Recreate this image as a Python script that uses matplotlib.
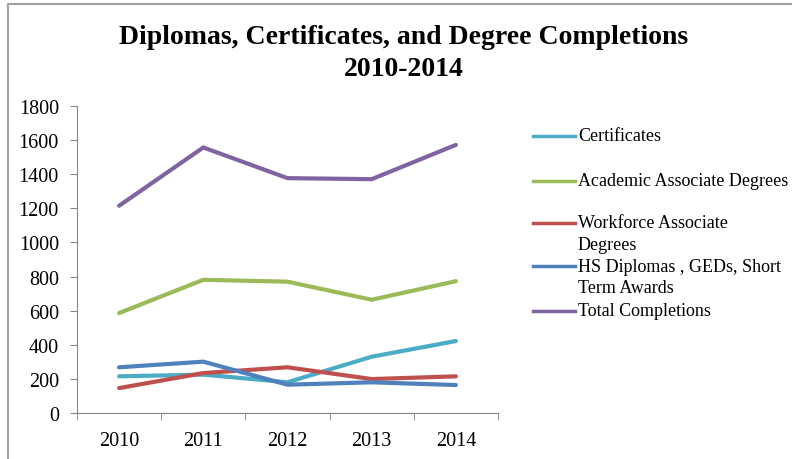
import matplotlib.pyplot as plt
from matplotlib.lines import Line2D

years = ['2010', '2011', '2012', '2013', '2014']
certificates = [215, 225, 180, 330, 422]
academic = [586, 781, 770, 664, 773]
workforce = [146, 234, 268, 199, 215]
hs_diplomas = [268, 301, 166, 180, 164]
total = [1215, 1557, 1377, 1371, 1572]

series_names = ['Certificates', 'Academic Associate Degrees',
                'Workforce Associate\nDegrees',
                'HS Diplomas , GEDs, Short\nTerm Awards',
                'Total Completions']
series_values = [certificates, academic, workforce, hs_diplomas, total]
colors = ['#4BACC6', '#9BBB59', '#C0504D', '#4F81BD', '#8064A2']

plt.rcParams['font.family'] = ['Liberation Serif', 'DejaVu Serif']

fig = plt.figure(figsize=(7.92, 4.6), dpi=100)
ax = fig.add_axes([77 / 792, 1 - 414 / 460, 421 / 792, 307 / 460])

x = list(range(len(years)))
for vals, c in zip(series_values, colors):
    ax.plot(x, vals, color=c, linewidth=3, solid_capstyle='round')

ax.set_xlim(-0.5, len(years) - 0.5)
ax.set_ylim(0, 1800)
ax.set_yticks(range(0, 1801, 200))
ax.set_xticks(x)
ax.set_xticklabels(years)
ax.set_xticks([i - 0.5 for i in range(len(years) + 1)], minor=True)
ax.tick_params(axis='x', which='major', length=0, pad=13, labelsize=14.5)
ax.tick_params(axis='x', which='minor', length=5, color='#868686')
ax.tick_params(axis='y', length=5, color='#868686', labelsize=14.5, pad=8)
for s in ['top', 'right']:
    ax.spines[s].set_visible(False)
for s in ['left', 'bottom']:
    ax.spines[s].set_color('#868686')

# title, two lines
fig.text(404 / 792, 1 - 37 / 460,
         'Diplomas, Certificates, and Degree Completions',
         ha='center', va='center', fontsize=20, fontweight='bold')
fig.text(404 / 792, 1 - 70 / 460, '2010-2014',
         ha='center', va='center', fontsize=20, fontweight='bold')

# legend drawn by hand to keep the uneven spacing of the original
legend_y = [137, 182, 224, 267, 312]
for name, c, ly in zip(series_names, colors, legend_y):
    yf = 1 - ly / 460
    fig.add_artist(Line2D([533 / 792, 575 / 792], [yf, yf], color=c,
                          linewidth=2.5, transform=fig.transFigure))
    for k, part in enumerate(name.split('\n')):
        fig.text(578 / 792, 1 - (ly + 21.5 * k) / 460, part, ha='left',
                 va='center', fontsize=13)

# frame of chart area
fig.add_artist(Line2D([8 / 792, 8 / 792, 1], [0, 1 - 5 / 460, 1 - 5 / 460],
                      color='#a0a0a0', linewidth=1.5,
                      transform=fig.transFigure))

fig.savefig('out.png', dpi=100)
